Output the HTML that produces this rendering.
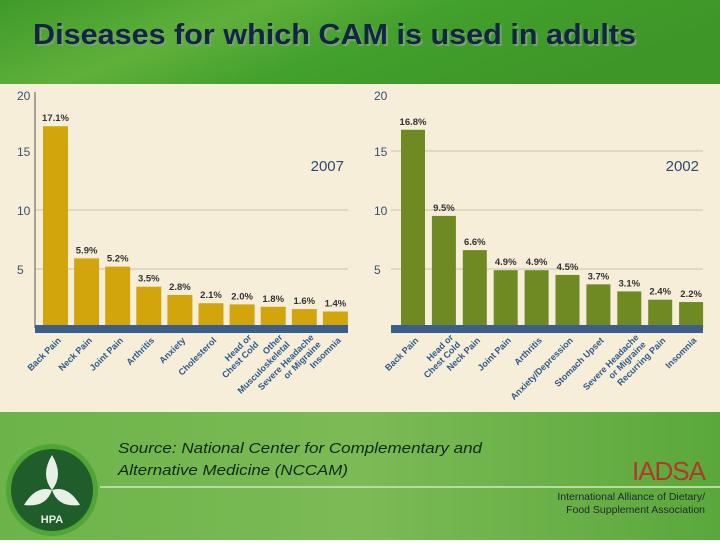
<!DOCTYPE html>
<html><head><meta charset="utf-8"><style>
body{margin:0;width:720px;height:540px;overflow:hidden;font-family:"Liberation Sans",sans-serif}
#root{position:relative;width:720px;height:540px;background:#5da63a}
</style></head><body>
<div id="root">
<svg id="svg" width="720" height="540" xmlns="http://www.w3.org/2000/svg">
<defs>
<linearGradient id="top" x1="0" y1="0" x2="1" y2="0.3"><stop offset="0" stop-color="#3f9a2a"/><stop offset="0.35" stop-color="#5fb03a"/><stop offset="0.6" stop-color="#42a02c"/><stop offset="1" stop-color="#3e9628"/></linearGradient>
<linearGradient id="bot" x1="0" y1="0" x2="1" y2="0"><stop offset="0" stop-color="#6cb44a"/><stop offset="0.5" stop-color="#7cba55"/><stop offset="1" stop-color="#5aa83c"/></linearGradient>
</defs>
<rect x="0" y="0" width="720" height="84" fill="url(#top)"/>
<text x="35" y="46" font-family="Liberation Sans, sans-serif" font-size="29" font-weight="bold" fill="#7aa070" textLength="603" lengthAdjust="spacingAndGlyphs">Diseases for which CAM is used in adults</text>
<text x="33" y="44" font-family="Liberation Sans, sans-serif" font-size="29" font-weight="bold" fill="#10283f" textLength="603" lengthAdjust="spacingAndGlyphs">Diseases for which CAM is used in adults</text>
<rect x="0" y="84" width="720" height="328" fill="#f6eed9"/>
<rect x="0" y="412" width="720" height="128" fill="url(#bot)"/>
<line x1="100" y1="487" x2="720" y2="487" stroke="#b8dca0" stroke-width="2"/>
<text x="118" y="453" font-size="15" font-style="italic" fill="#0f2a18" textLength="364" lengthAdjust="spacingAndGlyphs">Source:  National Center for Complementary and</text>
<text x="118" y="475" font-size="15" font-style="italic" fill="#0f2a18" textLength="230" lengthAdjust="spacingAndGlyphs">Alternative Medicine (NCCAM)</text>
<g>
<circle cx="52" cy="490" r="46" fill="#4fa535"/>
<circle cx="52" cy="490" r="41" fill="#1f5d2a"/>
<path d="M52 455 Q64 475 52 490 Q40 475 52 455Z" fill="#e8efe6"/>
<path d="M24 505 Q36 485 52 490 Q46 508 24 505Z" fill="#e8efe6"/>
<path d="M80 505 Q68 485 52 490 Q58 508 80 505Z" fill="#e8efe6"/>
<text x="52" y="523" font-size="11" font-weight="bold" fill="#e8efe6" text-anchor="middle">HPA</text>
</g>
<text x="705" y="480" font-size="26" fill="#b03a2a" text-anchor="end" letter-spacing="-1">IADSA</text>
<text x="705" y="500" font-size="10.5" fill="#1c2a2a" text-anchor="end">International Alliance of Dietary/</text>
<text x="705" y="513" font-size="10.5" fill="#1c2a2a" text-anchor="end">Food Supplement Association</text>
<g id="charts"></g>
</svg>
</div>
<script>
const cats2007 = [["Back Pain"],["Neck Pain"],["Joint Pain"],["Arthritis"],["Anxiety"],["Cholesterol"],["Head or","Chest Cold"],["Other","Musculoskeletal"],["Severe Headache","or Migraine"],["Insomnia"]];
const vals2007 = [17.1,5.9,5.2,3.5,2.8,2.1,2.0,1.8,1.6,1.4];
const cats2002 = [["Back Pain"],["Head or","Chest Cold"],["Neck Pain"],["Joint Pain"],["Arthritis"],["Anxiety/Depression"],["Stomach Upset"],["Severe Headache","or Migraine"],["Recurring Pain"],["Insomnia"]];
const vals2002 = [16.8,9.5,6.6,4.9,4.9,4.5,3.7,3.1,2.4,2.2];
const yTicks = [5,10,15,20];
const NS = "http://www.w3.org/2000/svg";
const g = document.getElementById('charts');
function mk(tag, attrs, parent){const e=document.createElementNS(NS,tag);for(const k in attrs)e.setAttribute(k,attrs[k]);(parent||g).appendChild(e);return e;}
const y0 = 328, pxPer = 11.8;
function yS(v){return y0 - v*pxPer;}
function chart(cfg){
  const grp = mk('g',{});
  
  
  yTicks.forEach(t=>{
    if(t<20 && cfg.grid.includes(t)){
      const l=mk('line',{x1:cfg.axisX,x2:cfg.right,y1:yS(t),y2:yS(t),stroke:'#c8c2b2','stroke-width':1},grp);
      
      
    }
    const tx=mk('text',{x:cfg.labelX,y:(t===20?100:yS(t)+5),'font-size':12,fill:'#3a5070'},grp);
    
    
    tx.textContent=t;
  });
  if(cfg.axisLine){const a=mk('line',{x1:cfg.axisX,x2:cfg.axisX,y1:92,y2:328,stroke:'#555','stroke-width':1},grp);
    }
  cfg.vals.forEach((v,i)=>{
    const x=cfg.x0+i*cfg.step;
    const r=mk('rect',{x:x,y:yS(v),width:cfg.bw,height:y0-yS(v),fill:cfg.color},grp);
    
    
    const t=mk('text',{x:x+cfg.bw/2,y:yS(v)-5,'font-size':9.5,'font-weight':'bold',fill:'#333','text-anchor':'middle'},grp);
    
    
    t.textContent=v.toFixed(1)+'%';
    const lines=cfg.cats[i];
    const cx=x+cfg.bw/2+(lines.length>1?10:6), cy=(lines.length>1?338:341);
    const lab=mk('text',{transform:'translate('+cx+','+cy+') rotate(-45)','font-size':9,'font-weight':'bold',fill:'#2f5a8a','text-anchor':'end'},grp);
    
    
    lines.forEach((s,j)=>{const ts=mk('tspan',{x:0,dy:(j===0?0:10)},lab);ts.textContent=s;});
  });
  const b=mk('rect',{x:cfg.bandX,y:325,width:cfg.right-cfg.bandX,height:8,fill:'#3b5f8a'},grp);
  
  
  const yr=mk('text',{x:cfg.right-4,y:171,'font-size':15,fill:'#2f4a72','text-anchor':'end'},grp);
  
  
  yr.textContent=cfg.year;
}
chart({year:'2007',vals:vals2007,cats:cats2007,x0:43,step:31.1,bw:25,axisX:35,right:348,bandX:35,labelX:17,color:'#d1a50b',grid:[5,10],axisLine:true});
chart({year:'2002',vals:vals2002,cats:cats2002,x0:401,step:30.9,bw:24,axisX:391,right:703,bandX:391,labelX:374,color:'#6f8a22',grid:[5,10,15],axisLine:false});
</script>
</body></html>
